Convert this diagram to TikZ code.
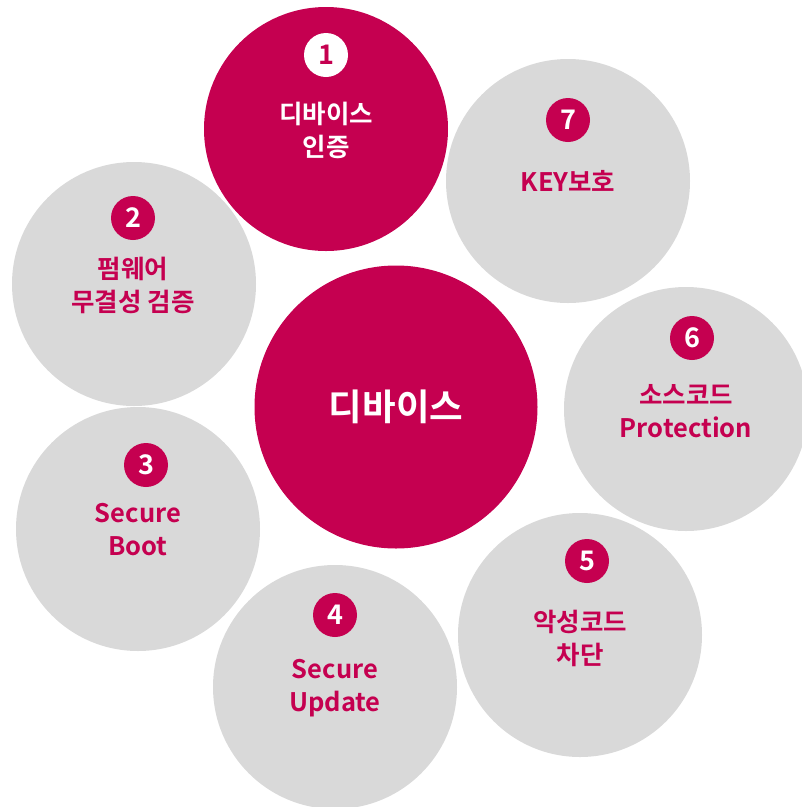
\documentclass[tikz,border=0pt]{standalone}
\usepackage{fontspec}
\setmainfont{Noto Sans CJK KR}[BoldFont={Noto Sans CJK KR Bold}]
\definecolor{lgred}{RGB}{197,0,80}
\definecolor{lggray}{RGB}{217,217,217}
\begin{document}
\begin{tikzpicture}[x=1pt,y=-1pt,
  bigc/.style={circle,minimum size=244pt,inner sep=0pt,fill=lggray},
  redc/.style={bigc,fill=lgred},
  badge/.style={circle,minimum size=44pt,inner sep=0pt,fill=lgred,text=white,font=\fontsize{27}{27}\selectfont\bfseries},
  badgew/.style={badge,fill=white,text=lgred},
  lbl/.style={align=center,text=lgred,inner sep=0pt,font=\fontsize{25.5}{33}\selectfont\bfseries},
  lblw/.style={lbl,text=white}]
\useasboundingbox (0,0) rectangle (802,807);
\clip (0,0) rectangle (802,807);
% outer circles
\node[bigc] (c7) at (568,181) {};
\node[bigc] (c2) at (134,284) {};
\node[bigc] (c6) at (686,409) {};
\node[bigc] (c3) at (138,529) {};
\node[bigc] (c5) at (580,635) {};
\node[bigc] (c4) at (335,687) {};
\node[redc] (c1) at (326,129) {};
\node[redc,minimum size=283pt] (c0) at (396,407) {};
% badges
\node[badgew] (b1) at (326,55) {1};
\node[badge] (b2) at (133,218) {2};
\node[badge] (b3) at (146,465) {3};
\node[badge] (b4) at (335,615) {4};
\node[badge] (b5) at (587,561) {5};
\node[badge] (b6) at (692,338) {6};
\node[badge] (b7) at (568,120) {7};
% labels
\node[lblw] (t1) at (326,130) {디바이스\\인증};
\node[lbl] (t2) at (133,285) {펌웨어\\무결성 검증};
\node[lbl] (t3) at (138,530) {Secure\\Boot};
\node[lbl] (t4) at (335,688) {Secure\\Update};
\node[lbl] (t5) at (580,638) {악성코드\\차단};
\node[lbl] (t6) at (686,411) {소스코드\\Protection};
\node[lbl] (t7) at (568,181) {KEY보호};
\node[lblw,font=\fontsize{36.5}{40}\selectfont\bfseries] (t0) at (396,407) {디바이스};
\end{tikzpicture}
\end{document}
